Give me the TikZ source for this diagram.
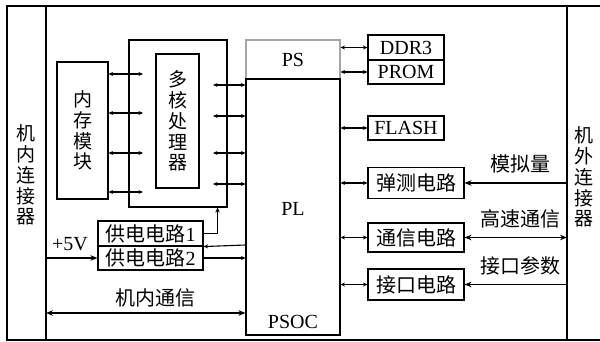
\documentclass[tikz,border=0pt]{standalone}
\usepackage{fontspec}
\setmainfont{Liberation Serif}
\newfontfamily\cjk{Noto Sans CJK SC}
\usetikzlibrary{arrows.meta}
\begin{document}
\begin{tikzpicture}[x=1pt,y=-1pt,
  line width=1.1pt,
  box/.style={draw,line width=1.1pt,inner sep=0pt,minimum width=#1},
  zh/.style={font=\cjk\fontsize{20}{21}\selectfont},
  en/.style={font=\fontsize{20}{22}\selectfont},
  vt/.style={font=\cjk\fontsize{19}{20.8}\selectfont,align=center},
  sm/.style={{Stealth[length=4.5pt,width=4pt]}-{Stealth[length=4.5pt,width=4pt]}},
  smr/.style={-{Stealth[length=4.5pt,width=4pt]}},
  smu/.style={-{Stealth[length=5pt,width=4.5pt]}},
  bg/.style={-{Stealth[length=7pt,width=5.5pt]}},
  bgd/.style={{Stealth[length=7pt,width=5.5pt]}-{Stealth[length=7pt,width=5.5pt]}},
]
\useasboundingbox (0,0) rectangle (600,342);
% outer frame and connector columns
\draw[line width=1.4pt] (600,6) -- (7,6) -- (7,340) -- (600,340);
\coordinate (lt) at (46,6);
\coordinate (lb) at (46,340);
\coordinate (rt) at (567,6);
\coordinate (rb) at (567,340);
\draw (lt) -- (lb);
\draw (rt) -- (rb);
\node[vt] (lconn) at (26,175) {机\\内\\连\\接\\器};
\node[vt] (rconn) at (584,177) {机\\外\\连\\接\\器};

% memory module and multicore processor
\node[box=51pt,minimum height=137pt,vt] (mem) at (82.5,130.5) {内\\存\\模\\块};
\node[box=98pt,minimum height=167pt] (mcout) at (178,123.5) {};
\node[box=43pt,minimum height=134pt,vt] (mcin) at (177.5,121) {多\\核\\处\\理\\器};

% PSOC
\node[box=94pt,minimum height=39pt,draw=black!35,en] (PS) at (293,59.5) {PS};
\node[box=94pt,minimum height=256pt] (PL) at (293,207) {};
\node[en] (pltext) at (293,209) {PL};
\node[en] (psoc) at (293,322) {PSOC};

% right-side boxes
\node[box=76pt,minimum height=25pt,en] (ddr) at (406,47.5) {DDR3};
\node[box=76pt,minimum height=24pt,en] (prom) at (406,72) {PROM};
\node[box=76pt,minimum height=24pt,en] (flash) at (406,128) {FLASH};
\node[box=96pt,minimum height=31pt,zh] (tc) at (416,183) {弹测电路};
\node[box=96pt,minimum height=29pt,zh] (tx) at (416,237.5) {通信电路};
\node[box=96pt,minimum height=31pt,zh] (jk) at (416,284.5) {接口电路};

% power boxes
\node[box=105pt,minimum height=25pt,zh] (g1) at (150.5,233.5) {供电电路\fontspec{Liberation Serif}1};
\node[box=105pt,minimum height=24pt,zh] (g2) at (150.5,258) {供电电路\fontspec{Liberation Serif}2};

% labels
\node[zh] (lmn) at (520,164) {模拟量};
\node[zh] (lgs) at (520,219) {高速通信};
\node[zh] (ljk) at (520,266) {接口参数};
\node[en] (l5v) at (70,244) {+5V};
\node[zh] (ljn) at (155,298) {机内通信};

% memory <-> processor
\foreach \yy in {74,113,153,192}
  \draw[sm] (mem.east |- 0,\yy) -- (143,\yy);
% processor <-> PL
\foreach \yy in {85,116,153,184}
  \draw[sm] (213,\yy) -- (PL.west |- 0,\yy);

% PS/PL <-> peripherals
\draw[sm] (PS.east |- ddr) -- (ddr.west);
\draw[sm] (PS.east |- prom) -- (prom.west);
\draw[sm] (PL.east |- flash) -- (flash.west);
\draw[sm] (PL.east |- tc) -- (tc.west);
\draw[sm] (PL.east |- tx) -- (tx.west);
\draw[sm] (PL.east |- jk) -- (jk.west);

% external connector
\draw[bg] (rt |- tc.east) -- (tc.east);
\draw[bgd] (tx.east) -- (rt |- tx.east);
\draw[bg] (rt |- jk.east) -- (jk.east);

% power
\draw[smu] (g1.east) -| ([xshift=-10pt]mcout.south east);
\draw[smr] (PL.west |- 0,245) -- (g1.south east);
\draw[smr] (g2.east) -- (PL.west |- g2.east);
\draw[bg] (lt |- g2.west) -- (g2.west);

% internal communication
\draw[bgd] (lt |- 0,313) -- (PL.west |- 0,313);
\end{tikzpicture}
\end{document}
